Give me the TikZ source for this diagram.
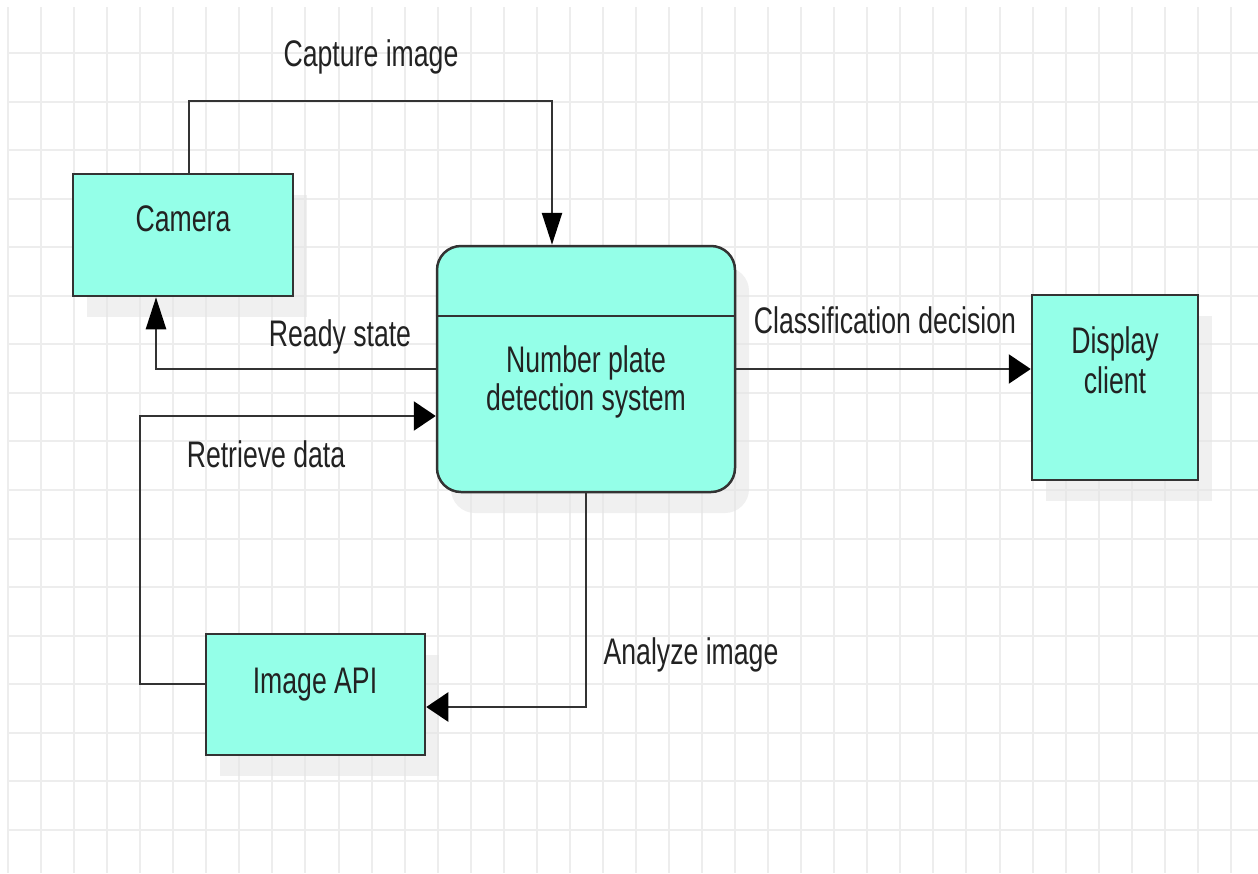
\documentclass[tikz,border=0pt]{standalone}
\usepackage{fontspec}
\setmainfont{Liberation Sans}[FakeStretch=0.72]
\usetikzlibrary{arrows.meta,calc}
\definecolor{boxfill}{HTML}{94FFE8}
\definecolor{edge}{HTML}{333333}
\definecolor{gridc}{HTML}{EDEDED}
\definecolor{shade}{HTML}{E6E6E6}
\definecolor{txt}{HTML}{222222}
\begin{document}
\begin{tikzpicture}[x=1pt,y=-1pt,
  box/.style={draw=edge,line width=2.5pt,fill=boxfill,inner sep=0pt},
  shadowbox/.style={fill=shade,opacity=0.6,draw=none},
  lbl/.style={anchor=base,inner sep=0pt,text=txt,font=\fontsize{37}{38}\selectfont},
  conn/.style={draw=edge,line width=2.5pt},
  vtip/.style={-{Triangle[length=32pt,width=20pt,color=black]}},
  htip/.style={-{Triangle[length=22pt,width=29pt,color=black]}}]
\useasboundingbox (0,0) rectangle (1258,873);
\fill[white] (0,0) rectangle (1258,873);
% grid
\foreach \i in {0,...,37} {\draw[gridc,line width=2pt] ({8+33.05*\i},7) -- ({8+33.05*\i},873);}
\foreach \j in {0,...,16} {\draw[gridc,line width=2pt] (8,{53+48.55*\j}) -- (1258,{53+48.55*\j});}
% shadows
\fill[shadowbox] (87,195) rectangle (307,317);
\fill[shadowbox,rounded corners=24pt] (451,267) rectangle (749,513);
\fill[shadowbox] (1046,316) rectangle (1212,501);
\fill[shadowbox] (220,655) rectangle (439,776);
% boxes
\node[box,minimum width=220pt,minimum height=122pt] (cam) at (183,235) {};
\node[box,rounded corners=24pt,minimum width=298pt,minimum height=246pt] (npd) at (586,369) {};
\draw[edge,line width=2.5pt] ($(npd.west)+(0,-53)$) coordinate (dl) -- ($(npd.east)+(0,-53)$) coordinate (dr);
\node[box,minimum width=166pt,minimum height=185pt] (disp) at (1115,387.5) {};
\node[box,minimum width=219pt,minimum height=121pt] (api) at (315.5,694.5) {};
% texts
\node[lbl] (tcam) at (183,231) {Camera};
\node[lbl] (tnpd1) at (586,372) {Number plate};
\node[lbl] (tnpd2) at (586,410) {detection system};
\node[lbl] (tdisp1) at (1115,353) {Display};
\node[lbl] (tdisp2) at (1115,393) {client};
\node[lbl] (tapi) at (315,693) {Image API};
\node[lbl] (lcap) at (371,66) {Capture image};
\node[lbl] (lready) at (340,346) {Ready state};
\node[lbl] (lclass) at (885,333) {Classification decision};
\node[lbl] (lret) at (266,467) {Retrieve data};
\node[lbl] (lana) at (691,664) {Analyze image};
% connector bend points
\coordinate (captop) at (371,101);
\coordinate (retleft) at (140,416);
% connectors
\draw[conn,vtip] ([xshift=6pt]cam.north) |- (captop) -| ([xshift=-34pt]npd.north);
\draw[conn,vtip] (npd.west) -| ([xshift=-27pt]cam.south);
\draw[conn,htip] (npd.east) -- (npd.east -| disp.west);
\draw[conn,htip] ([yshift=10.5pt]api.west) -| (retleft) -- (retleft -| npd.west);
\draw[conn,htip] (npd.south) |- ([yshift=-12.5pt]api.east);
\end{tikzpicture}
\end{document}
